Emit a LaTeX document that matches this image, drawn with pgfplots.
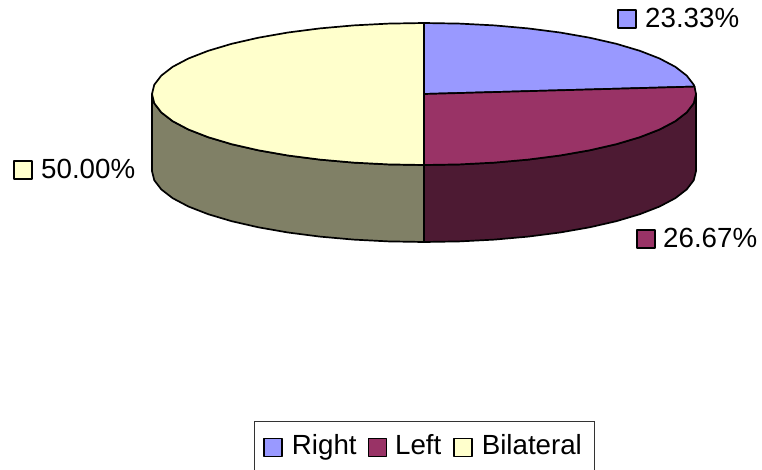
\documentclass[border=0pt]{standalone}
\usepackage{pgfplots}
\pgfplotsset{compat=1.18}
\usepackage{fontspec}
\setmainfont{Liberation Sans}
\definecolor{cRight}{HTML}{9999FF}
\definecolor{cLeft}{HTML}{993366}
\definecolor{cBil}{HTML}{FFFFCC}
\definecolor{sLeft}{HTML}{4D1A33}
\definecolor{sBil}{HTML}{808066}
\begin{document}
\begin{tikzpicture}
\useasboundingbox (0,0) rectangle (762pt,469pt);
\begin{axis}[
  scale only axis, width=762pt, height=469pt,
  xmin=0, xmax=762, ymin=0, ymax=469, y dir=reverse,
  hide axis, clip=false,
  legend columns=3,
  legend cell align=left,
  legend style={
    at={(0.3333,0.1013)}, anchor=north west,
    draw=black!80, line width=1pt, fill=white,
    font=\fontsize{27.7}{30}\selectfont,
    inner xsep=9pt, inner ysep=9pt,
    /tikz/every even column/.append style={column sep=0pt},
    nodes={inner sep=0pt, text height=24pt, text depth=9pt},
  },
  legend image code/.code={\draw[#1, line width=1.5pt, draw=black] (0pt,-9pt) rectangle (18pt,9pt);},
  every axis plot/.append style={line join=round},
]
% side walls
\addplot[forget plot, fill=sBil, draw=black, line width=1.7pt] coordinates {
(424,165)(388.5,164.4)(353.6,162.6)(319.9,159.6)(288,155.5)(258.4,150.3)(231.7,144.2)(208.2,137.2)(188.4,129.5)(172.7,121.2)(161.3,112.4)(154.3,103.3)(152,94)
(152,171)(154.3,180.3)(161.3,189.4)(172.7,198.2)(188.4,206.5)(208.2,214.2)(231.7,221.2)(258.4,227.3)(288,232.5)(319.9,236.6)(353.6,239.6)(388.5,241.4)(424,242)
} --cycle;
\addplot[forget plot, fill=sLeft, draw=black, line width=1.7pt] coordinates {
(696,94)(693.7,103.3)(686.7,112.4)(675.3,121.2)(659.6,129.5)(639.8,137.2)(616.3,144.2)(589.6,150.3)(560,155.5)(528.1,159.6)(494.4,162.6)(459.5,164.4)(424,165)
(424,242)(459.5,241.4)(494.4,239.6)(528.1,236.6)(560,232.5)(589.6,227.3)(616.3,221.2)(639.8,214.2)(659.6,206.5)(675.3,198.2)(686.7,189.4)(693.7,180.3)(696,171)
} --cycle;
% top slices
\addplot[fill=cRight, draw=black, line width=1.7pt] coordinates {
(424,94)(424,23)(459.5,23.6)(494.4,25.4)(528.1,28.4)(560,32.5)(589.6,37.7)(616.3,43.8)(639.8,50.8)(659.6,58.5)(675.3,66.8)(686.7,75.6)(693.7,84.7)(694.5,86.6)
} --cycle;
\addplot[fill=cLeft, draw=black, line width=1.7pt] coordinates {
(424,94)(694.5,86.6)(696,94)(693.7,103.3)(686.7,112.4)(675.3,121.2)(659.6,129.5)(639.8,137.2)(616.3,144.2)(589.6,150.3)(560,155.5)(528.1,159.6)(494.4,162.6)(459.5,164.4)(424,165)
} --cycle;
\addplot[fill=cBil, draw=black, line width=1.7pt] coordinates {
(424,165)(388.5,164.4)(353.6,162.6)(319.9,159.6)(288,155.5)(258.4,150.3)(231.7,144.2)(208.2,137.2)(188.4,129.5)(172.7,121.2)(161.3,112.4)(154.3,103.3)(152,94)
(154.3,84.7)(161.3,75.6)(172.7,66.8)(188.4,58.5)(208.2,50.8)(231.7,43.8)(258.4,37.7)(288,32.5)(319.9,28.4)(353.6,25.4)(388.5,23.6)(424,23)
} --cycle;
\legend{\hspace*{9pt}Right\hspace*{11pt},\hspace*{8pt}Left\hspace*{12pt},\hspace*{9pt}Bilateral\hspace*{4pt}}
% data-label swatches
\addplot[forget plot, fill=cRight, draw=black, line width=1.5pt] coordinates {(618,10)(636,10)(636,28)(618,28)} --cycle;
\addplot[forget plot, fill=cLeft, draw=black, line width=1.5pt] coordinates {(637,230)(655,230)(655,248)(637,248)} --cycle;
\addplot[forget plot, fill=cBil, draw=black, line width=1.5pt] coordinates {(14,161)(32,161)(32,179)(14,179)} --cycle;
\node[anchor=base west, inner sep=0pt, font=\fontsize{27.7}{30}\selectfont] at (axis cs:645,27) {23.33\%};
\node[anchor=base west, inner sep=0pt, font=\fontsize{27.7}{30}\selectfont] at (axis cs:663,247) {26.67\%};
\node[anchor=base west, inner sep=0pt, font=\fontsize{27.7}{30}\selectfont] at (axis cs:41,178) {50.00\%};
\end{axis}
\end{tikzpicture}
\end{document}
